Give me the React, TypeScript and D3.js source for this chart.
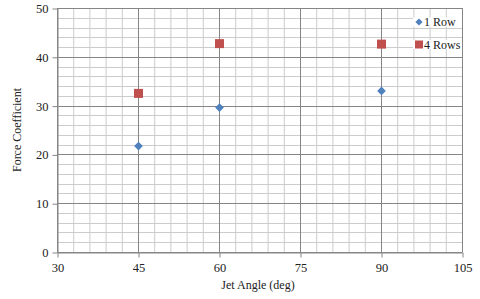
import { useEffect, useRef } from "react";
import * as d3 from "d3";

const angles = [45, 60, 90];
const oneRow = [21.7, 29.6, 33.0];
const fourRows = [32.5, 42.7, 42.6];
const xTicks = [30, 45, 60, 75, 90, 105];
const yTicks = [0, 10, 20, 30, 40, 50];

const W = 480;
const H = 299;
const m = { left: 57, right: 18, top: 8, bottom: 47 };
const font = "'Liberation Serif', 'Times New Roman', serif";

export default function App() {
  const ref = useRef<SVGSVGElement>(null);

  useEffect(() => {
    const svg = d3.select(ref.current!);
    svg.selectAll("*").remove();

    const x = d3.scaleLinear().domain([30, 105]).range([m.left, W - m.right]);
    const y = d3.scaleLinear().domain([0, 50]).range([H - m.bottom, m.top]);

    const g = svg.append("g");

    // minor grid
    const xMinor = d3.range(30, 105.01, 3);
    const yMinor = d3.range(0, 50.01, 2);
    g.selectAll(".xm")
      .data(xMinor)
      .join("line")
      .attr("x1", (d) => x(d) + 0.5)
      .attr("x2", (d) => x(d) + 0.5)
      .attr("y1", y(0))
      .attr("y2", y(50))
      .attr("stroke", "#cccccc");
    g.selectAll(".ym")
      .data(yMinor)
      .join("line")
      .attr("y1", (d) => Math.round(y(d)) + 0.5)
      .attr("y2", (d) => Math.round(y(d)) + 0.5)
      .attr("x1", x(30))
      .attr("x2", x(105))
      .attr("stroke", "#cccccc");

    // major grid
    g.selectAll(".xM")
      .data(xTicks)
      .join("line")
      .attr("x1", (d) => x(d) + 0.5)
      .attr("x2", (d) => x(d) + 0.5)
      .attr("y1", y(0))
      .attr("y2", y(50))
      .attr("stroke", "#858585");
    g.selectAll(".yM")
      .data(yTicks)
      .join("line")
      .attr("y1", (d) => Math.round(y(d)) + 0.5)
      .attr("y2", (d) => Math.round(y(d)) + 0.5)
      .attr("x1", x(30))
      .attr("x2", x(105))
      .attr("stroke", "#858585");

    // axes
    const xAxis = svg
      .append("g")
      .attr("transform", `translate(0.5,${Math.round(y(0)) + 0.5})`)
      .call(d3.axisBottom(x).tickValues(xTicks).tickSize(5).tickSizeOuter(0));
    const yAxis = svg
      .append("g")
      .attr("transform", `translate(${x(30) + 0.5},0.5)`)
      .call(d3.axisLeft(y).tickValues(yTicks).tickSize(5).tickSizeOuter(0));
    [xAxis, yAxis].forEach((a) => {
      a.select(".domain").attr("stroke", "#868686");
      a.selectAll(".tick line").attr("stroke", "#868686");
      a.selectAll("text")
        .attr("font-family", font)
        .attr("font-size", 12.5)
        .attr("fill", "#222");
    });
    xAxis.selectAll("text").attr("dy", "1.05em").attr("y", 6);
    yAxis.selectAll("text").attr("x", -9);

    // series
    const diamond = d3.symbol(d3.symbolSquare, 38);
    const square = d3.symbol(d3.symbolSquare, 81);
    svg
      .append("g")
      .selectAll("path")
      .data(angles.map((a, i) => [a, fourRows[i]]))
      .join("path")
      .attr("d", square)
      .attr("transform", (d) => `translate(${x(d[0]) + 0.5},${y(d[1])})`)
      .attr("fill", "#c0504d");
    svg
      .append("g")
      .selectAll("path")
      .data(angles.map((a, i) => [a, oneRow[i]]))
      .join("path")
      .attr("d", diamond)
      .attr("transform", (d) => `translate(${x(d[0]) + 0.5},${y(d[1])}) rotate(45)`)
      .attr("fill", "#4f81bd");

    // legend
    const leg = svg.append("g");
    const entries = [
      { name: "1 Row", color: "#4f81bd", sym: d3.symbol(d3.symbolSquare, 26), rot: 45, cy: 22 },
      { name: "4 Rows", color: "#c0504d", sym: d3.symbol(d3.symbolSquare, 64), rot: 0, cy: 44.5 },
    ];
    entries.forEach((e) => {
      leg.append("rect")
        .attr("x", 413)
        .attr("y", e.cy - 4.5)
        .attr("width", 49)
        .attr("height", 9)
        .attr("fill", "#fff");
      leg.append("path")
        .attr("d", e.sym)
        .attr("transform", `translate(419,${e.cy}) rotate(${e.rot})`)
        .attr("fill", e.color);
      leg.append("text")
        .attr("x", 424)
        .attr("y", e.cy)
        .attr("dy", "0.35em")
        .attr("font-family", font)
        .attr("font-size", 12)
        .attr("fill", "#222")
        .text(e.name);
    });

    // axis titles
    svg.append("text")
      .attr("x", 258)
      .attr("y", 289)
      .attr("text-anchor", "middle")
      .attr("font-family", font)
      .attr("font-size", 12)
      .attr("fill", "#222")
      .text("Jet Angle (deg)");
    svg.append("text")
      .attr("transform", `translate(21,130) rotate(-90)`)
      .attr("text-anchor", "middle")
      .attr("font-family", font)
      .attr("font-size", 12)
      .attr("fill", "#222")
      .text("Force Coefficient");
  }, []);

  return (
    <svg
      ref={ref}
      width={W}
      height={H}
      style={{ position: "absolute", left: 0, top: 0, background: "#fff" }}
    />
  );
}
